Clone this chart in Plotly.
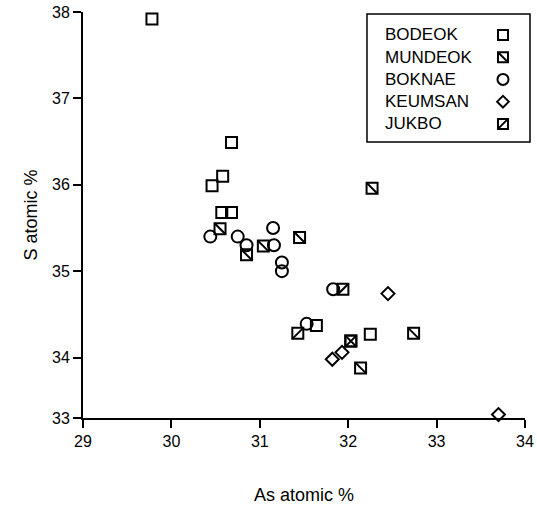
import plotly.graph_objects as go

# ---- data ----
series_names = ["BODEOK", "MUNDEOK", "BOKNAE", "KEUMSAN", "JUKBO"]

bodeok_x = [29.78, 30.68, 30.58, 30.46, 30.57, 30.68, 31.64, 32.25]
bodeok_y = [37.92, 36.49, 36.10, 35.99, 35.68, 35.68, 34.37, 34.27]

mundeok_x = [30.55, 30.85, 31.04, 31.45, 32.27, 32.03, 32.74, 32.14]
mundeok_y = [35.49, 35.19, 35.29, 35.39, 35.96, 34.19, 34.28, 33.88]

boknae_x = [30.44, 30.75, 30.85, 31.15, 31.16, 31.25, 31.25, 31.83, 31.53]
boknae_y = [35.40, 35.40, 35.30, 35.50, 35.30, 35.10, 35.00, 34.79, 34.39]

keumsan_x = [32.45, 31.93, 31.82, 33.70]
keumsan_y = [34.74, 34.06, 33.98, 33.34]

jukbo_x = [31.94, 31.43, 32.03]
jukbo_y = [34.79, 34.28, 34.19]

x_ticks = [29, 30, 31, 32, 33, 34]
y_tickvals = [33.3, 34, 35, 36, 37, 38]
y_ticktext = ["33", "34", "35", "36", "37", "38"]

FONT = "Liberation Sans, Arial, sans-serif"
BLACK = "black"

# symbol layers per series (base symbol + optional diagonal)
symbol_layers = {
    "BODEOK": [("square-open", 11)],
    "MUNDEOK": [("square-open", 11), ("line-nw", 11)],
    "BOKNAE": [("circle-open", 12)],
    "KEUMSAN": [("diamond-open", 10)],
    "JUKBO": [("square-open", 11), ("line-ne", 11)],
}
series_data = {
    "BODEOK": (bodeok_x, bodeok_y),
    "MUNDEOK": (mundeok_x, mundeok_y),
    "BOKNAE": (boknae_x, boknae_y),
    "KEUMSAN": (keumsan_x, keumsan_y),
    "JUKBO": (jukbo_x, jukbo_y),
}

fig = go.Figure()

for name in series_names:
    xs, ys = series_data[name]
    for sym, size in symbol_layers[name]:
        fig.add_trace(go.Scatter(
            x=xs, y=ys, mode="markers", name=name, showlegend=False,
            cliponaxis=False,
            marker=dict(symbol=sym, size=size, color=BLACK,
                        line=dict(color=BLACK, width=2)),
            hoverinfo="x+y+name",
        ))

# ---- custom legend (text left, symbol right) on a small hidden subplot ----
legend_rows = list(range(len(series_names)))
for i, name in enumerate(series_names):
    for sym, size in symbol_layers[name]:
        fig.add_trace(go.Scatter(
            x=[503], y=[legend_rows[i]], mode="markers", showlegend=False,
            xaxis="x2", yaxis="y2", cliponaxis=False, hoverinfo="skip",
            marker=dict(symbol=sym, size=size - 1, color=BLACK,
                        line=dict(color=BLACK, width=2)),
        ))
    fig.add_annotation(x=383, y=legend_rows[i], xref="x2", yref="y2",
                       text=name, showarrow=False, xanchor="left",
                       yanchor="middle",
                       font=dict(family=FONT, size=17, color=BLACK))

# legend frame (paper coordinates so it is not clipped at the plot edge)
fig.add_shape(type="rect", xref="paper", yref="paper",
              x0=0.6425, x1=1.0113, y0=0.680, y1=0.995,
              line=dict(color=BLACK, width=1.5))

axis_common = dict(
    showline=True, linecolor=BLACK, linewidth=2, ticks="outside",
    ticklen=8, tickwidth=2, tickcolor=BLACK, showgrid=False, zeroline=False,
    tickfont=dict(family=FONT, size=16, color=BLACK),
    mirror=False, automargin=False,
)

fig.update_layout(
    width=537, height=514,
    margin=dict(l=83, r=12, t=12, b=96),
    paper_bgcolor="white", plot_bgcolor="white",
    showlegend=False,
    xaxis=dict(range=[29, 34], tickvals=x_ticks,
               title=dict(text="As atomic %", standoff=39,
                          font=dict(family=FONT, size=18, color=BLACK)),
               **axis_common),
    yaxis=dict(range=[33.3, 38.0], tickvals=y_tickvals, ticktext=y_ticktext,
               title=dict(text="S atomic %", standoff=10,
                          font=dict(family=FONT, size=18, color=BLACK)),
               **axis_common),
    xaxis2=dict(domain=[0.6425, 1.0], anchor="y2", range=[367, 525],
                visible=False, fixedrange=True),
    yaxis2=dict(domain=[0.680, 0.995], anchor="x2", range=[4.81, -0.94],
                visible=False, fixedrange=True),
)

fig.write_html("out.html",
               config={"displayModeBar": False},
               post_script="document.body.style.margin='0';")
